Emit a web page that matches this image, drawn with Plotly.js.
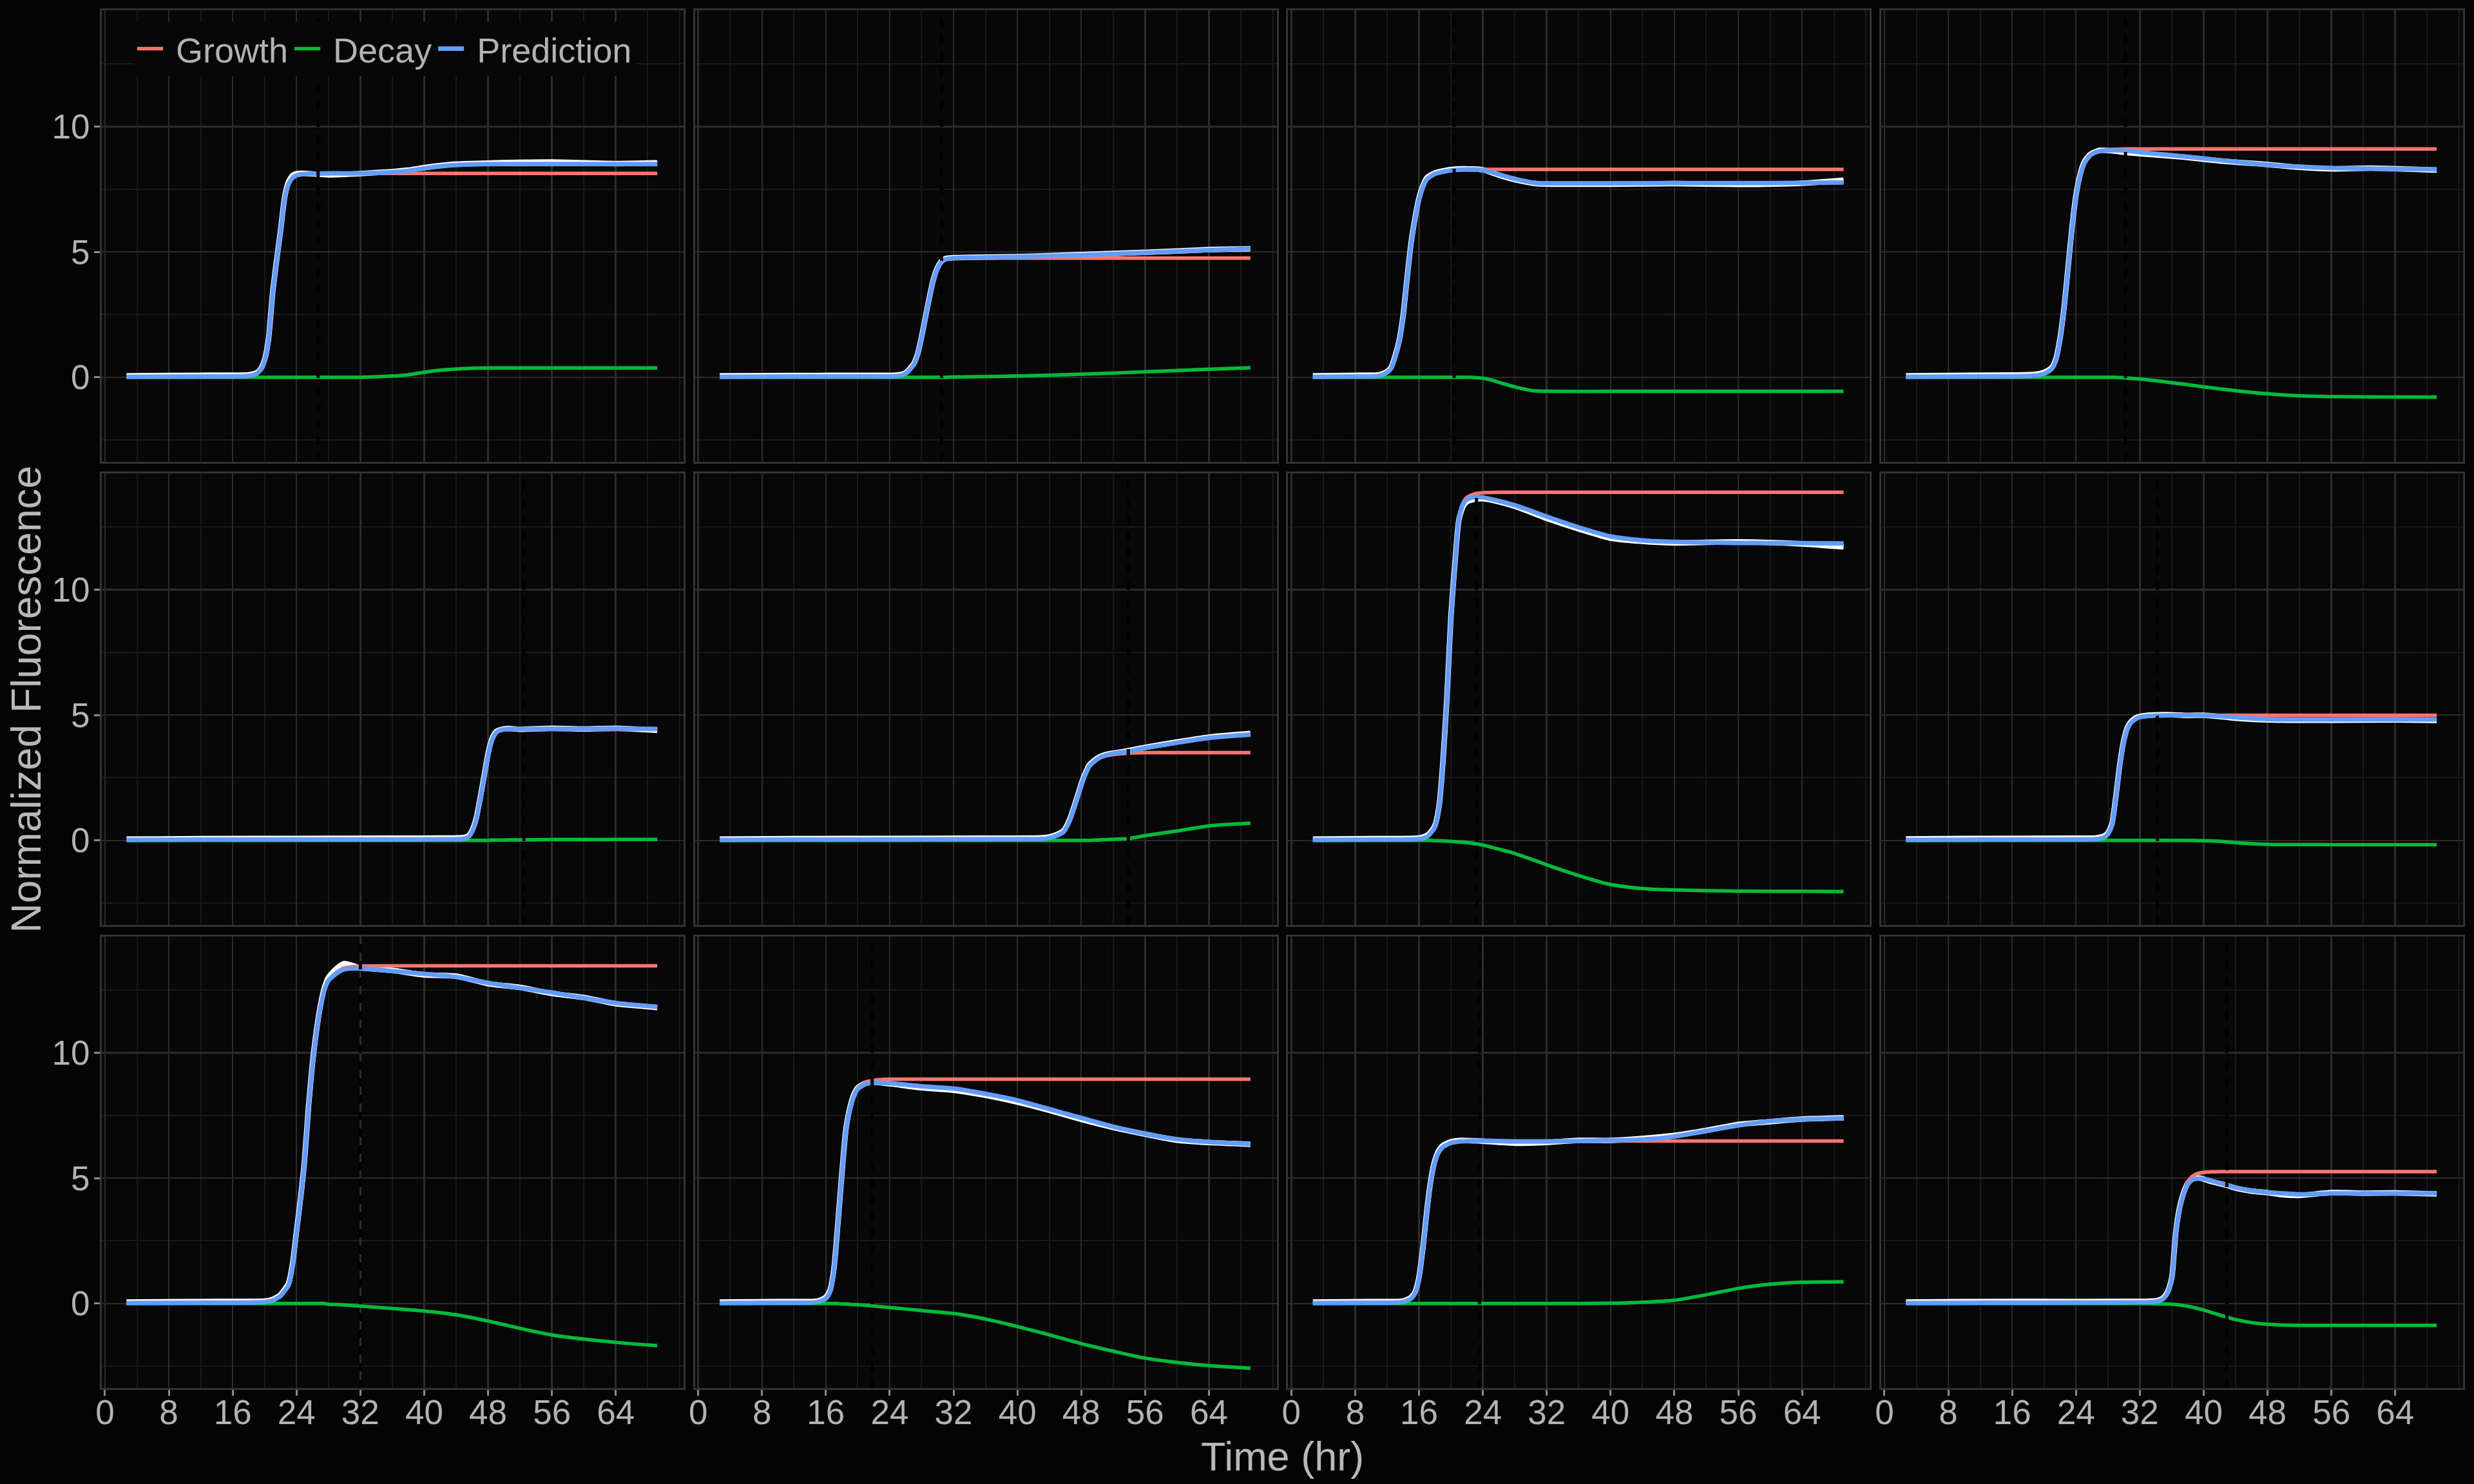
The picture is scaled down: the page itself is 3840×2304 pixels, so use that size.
<!DOCTYPE html>
<html>
<head>
<meta charset="utf-8">
<script src="https://cdn.plot.ly/plotly-3.0.1.min.js"></script>
<style>
  html, body { margin: 0; padding: 0; background: #040404; }
  #chart { width: 3840px; height: 2304px; }
</style>
</head>
<body>
<div id="chart"></div>
<script>
// ---------------- DATA ----------------
const xTicks = [0, 8, 16, 24, 32, 40, 48, 56, 64];
const yTicks = [0, 5, 10];
const seriesNames = ["Growth", "Decay", "Prediction"];
// time of the dashed vertical marker in each panel
const markerTime = [26.7, 30.5, 20.4, 30.2, 52.5, 53.9, 23.2, 34.2, 32.0, 21.8, 23.6, 42.9];

// Panel 1
const t1 = [2.7, 12, 18, 19, 19.5, 20, 20.5, 21, 21.5, 22, 22.5, 23, 23.5, 24, 25, 28, 32, 36, 38, 40, 42, 44, 48, 56, 64, 69.2];
const growth1 = [0.02, 0.03, 0.06, 0.15, 0.3, 0.65, 1.5, 3.3, 4.6, 5.8, 7.1, 7.7, 7.95, 8.05, 8.11, 8.13, 8.13, 8.13, 8.13, 8.13, 8.13, 8.13, 8.13, 8.13, 8.13, 8.13];
const decay1 = [0, 0, 0, 0, 0, 0, 0, 0, 0, 0, 0, 0, 0, 0, 0, 0, 0, 0.05, 0.1, 0.2, 0.28, 0.33, 0.37, 0.37, 0.37, 0.37];
const pred1 = [0.02, 0.03, 0.06, 0.15, 0.3, 0.65, 1.5, 3.3, 4.6, 5.8, 7.1, 7.7, 7.95, 8.05, 8.11, 8.13, 8.13, 8.18, 8.23, 8.33, 8.41, 8.46, 8.5, 8.5, 8.5, 8.5];
const obs1 = [0.06, 0.08, 0.1, 0.18, 0.33, 0.7, 1.55, 3.35, 4.65, 5.85, 7.15, 7.8, 8.05, 8.12, 8.13, 8.07, 8.12, 8.2, 8.26, 8.36, 8.44, 8.5, 8.54, 8.58, 8.52, 8.55];

// Panel 2
const t2 = [2.7, 12, 20, 25, 26, 27, 27.5, 28, 28.5, 29, 29.5, 30, 30.5, 31, 32, 34, 40, 48, 56, 64, 69.2];
const growth2 = [0.02, 0.03, 0.04, 0.05, 0.15, 0.5, 0.9, 1.6, 2.4, 3.2, 3.9, 4.35, 4.6, 4.7, 4.74, 4.75, 4.75, 4.75, 4.75, 4.75, 4.75];
const decay2 = [0, 0, 0, 0, 0, 0, 0, 0, 0, 0, 0, 0, 0, 0, 0.01, 0.02, 0.05, 0.12, 0.22, 0.32, 0.38];
const pred2 = [0.02, 0.03, 0.04, 0.05, 0.15, 0.5, 0.9, 1.6, 2.4, 3.2, 3.9, 4.35, 4.6, 4.7, 4.75, 4.77, 4.8, 4.87, 4.97, 5.07, 5.13];
const obs2 = [0.06, 0.07, 0.08, 0.09, 0.18, 0.53, 0.93, 1.63, 2.43, 3.23, 3.93, 4.38, 4.63, 4.73, 4.77, 4.78, 4.81, 4.89, 4.98, 5.09, 5.12];

// Panel 3
const t3 = [2.7, 8, 11, 12, 12.5, 13, 13.5, 14, 14.5, 15, 15.5, 16, 16.5, 17, 18, 20, 22.3, 24, 25.2, 26.5, 28, 30.4, 32.7, 40, 48, 56, 64, 69.2];
const growth3 = [0.02, 0.03, 0.06, 0.2, 0.35, 0.8, 1.4, 2.4, 3.9, 5.3, 6.3, 7.1, 7.6, 7.9, 8.11, 8.25, 8.29, 8.29, 8.29, 8.29, 8.29, 8.29, 8.29, 8.29, 8.29, 8.29, 8.29, 8.29];
const decay3 = [0, 0, 0, 0, 0, 0, 0, 0, 0, 0, 0, 0, 0, 0, 0, 0, 0, -0.04, -0.12, -0.25, -0.38, -0.54, -0.56, -0.56, -0.56, -0.56, -0.56, -0.56];
const pred3 = [0.02, 0.03, 0.06, 0.2, 0.35, 0.8, 1.4, 2.4, 3.9, 5.3, 6.3, 7.1, 7.6, 7.9, 8.11, 8.25, 8.29, 8.25, 8.17, 8.04, 7.91, 7.75, 7.73, 7.73, 7.74, 7.74, 7.75, 7.77];
const obs3 = [0.06, 0.08, 0.1, 0.23, 0.4, 0.85, 1.45, 2.45, 3.95, 5.35, 6.35, 7.15, 7.65, 7.96, 8.15, 8.28, 8.31, 8.27, 8.15, 8.01, 7.88, 7.73, 7.7, 7.7, 7.72, 7.69, 7.74, 7.86];

// Panel 4
const t4 = [2.7, 10, 18, 19.5, 20.5, 21, 21.5, 22, 22.5, 23, 23.5, 24, 24.5, 25, 25.5, 26, 27, 28.5, 30, 32.7, 37.4, 42.2, 46.9, 51.6, 56.4, 61, 69.2];
const growth4 = [0.02, 0.03, 0.05, 0.1, 0.22, 0.35, 0.7, 1.5, 2.7, 4.3, 5.9, 7.2, 8.0, 8.5, 8.75, 8.9, 9.02, 9.08, 9.1, 9.1, 9.1, 9.1, 9.1, 9.1, 9.1, 9.1, 9.1];
const decay4 = [0, 0, 0, 0, 0, 0, 0, 0, 0, 0, 0, 0, 0, 0, 0, 0, 0, 0, -0.02, -0.09, -0.27, -0.47, -0.63, -0.73, -0.77, -0.78, -0.79];
const pred4 = [0.02, 0.03, 0.05, 0.1, 0.22, 0.35, 0.7, 1.5, 2.7, 4.3, 5.9, 7.2, 8.0, 8.5, 8.75, 8.9, 9.02, 9.05, 9.04, 8.95, 8.81, 8.65, 8.5, 8.4, 8.34, 8.32, 8.29];
const obs4 = [0.06, 0.08, 0.1, 0.15, 0.28, 0.4, 0.76, 1.56, 2.76, 4.36, 5.96, 7.26, 8.06, 8.56, 8.8, 8.93, 9.05, 9.03, 8.97, 8.9, 8.78, 8.62, 8.51, 8.38, 8.31, 8.34, 8.26];

// Panel 5
const t5 = [2.7, 12, 24, 36, 44, 45, 45.5, 46, 46.5, 47, 47.5, 48, 48.5, 49, 49.5, 50.5, 52, 56, 60, 64, 69.2];
const growth5 = [0.02, 0.03, 0.04, 0.04, 0.05, 0.07, 0.12, 0.35, 0.8, 1.6, 2.5, 3.4, 4.0, 4.28, 4.38, 4.42, 4.42, 4.42, 4.42, 4.42, 4.42];
const decay5 = [0, 0, 0, 0, 0, 0, 0, 0, 0, 0, 0, 0, 0.01, 0.01, 0.01, 0.02, 0.02, 0.03, 0.03, 0.04, 0.04];
const pred5 = [0.02, 0.03, 0.04, 0.04, 0.05, 0.07, 0.12, 0.35, 0.8, 1.6, 2.5, 3.4, 4.01, 4.29, 4.39, 4.44, 4.44, 4.45, 4.45, 4.46, 4.44];
const obs5 = [0.05, 0.07, 0.08, 0.09, 0.1, 0.12, 0.17, 0.4, 0.86, 1.66, 2.56, 3.46, 4.06, 4.33, 4.41, 4.46, 4.43, 4.47, 4.44, 4.47, 4.39];

// Panel 6
const t6 = [2.7, 12, 24, 36, 43, 44, 45, 45.8, 46.5, 47.2, 48, 48.4, 49, 49.6, 50.3, 51, 52.5, 53.9, 56.2, 60.5, 64.3, 69.2];
const growth6 = [0.02, 0.03, 0.04, 0.05, 0.06, 0.1, 0.2, 0.34, 0.75, 1.39, 2.2, 2.55, 2.95, 3.13, 3.28, 3.36, 3.44, 3.48, 3.5, 3.5, 3.5, 3.5];
const decay6 = [0, 0, 0, 0, 0, 0, 0, 0, 0, 0, 0, 0, 0, 0.01, 0.02, 0.03, 0.05, 0.07, 0.2, 0.4, 0.59, 0.69];
const pred6 = [0.02, 0.03, 0.04, 0.05, 0.06, 0.1, 0.2, 0.34, 0.75, 1.39, 2.2, 2.55, 2.95, 3.14, 3.3, 3.39, 3.49, 3.55, 3.7, 3.92, 4.1, 4.22];
const obs6 = [0.05, 0.07, 0.08, 0.09, 0.1, 0.14, 0.24, 0.39, 0.8, 1.44, 2.25, 2.6, 3.0, 3.18, 3.33, 3.42, 3.5, 3.58, 3.72, 3.95, 4.13, 4.26];

// Panel 7
const t7 = [2.7, 10, 16, 17, 17.5, 18, 18.5, 19, 19.5, 20, 20.5, 21, 21.5, 22, 23, 24, 26, 28, 30, 32.5, 36, 40, 44, 48, 56, 64, 69.2];
const growth7 = [0.02, 0.03, 0.06, 0.15, 0.3, 0.55, 1.3, 3.1, 5.7, 8.9, 11.0, 12.9, 13.45, 13.68, 13.82, 13.86, 13.88, 13.88, 13.88, 13.88, 13.88, 13.88, 13.88, 13.88, 13.88, 13.88, 13.88];
const decay7 = [0, 0, 0, 0, 0, -0.01, -0.01, -0.02, -0.03, -0.04, -0.05, -0.06, -0.07, -0.09, -0.13, -0.19, -0.35, -0.52, -0.74, -1.03, -1.4, -1.76, -1.92, -1.98, -2.02, -2.03, -2.04];
const pred7 = [0.02, 0.03, 0.06, 0.15, 0.3, 0.54, 1.29, 3.08, 5.67, 8.86, 10.95, 12.84, 13.38, 13.59, 13.69, 13.67, 13.53, 13.36, 13.14, 12.85, 12.48, 12.12, 11.96, 11.9, 11.86, 11.85, 11.84];
const obs7 = [0.05, 0.07, 0.1, 0.2, 0.35, 0.6, 1.35, 3.15, 5.75, 8.95, 11.05, 12.8, 13.3, 13.5, 13.6, 13.62, 13.5, 13.32, 13.08, 12.78, 12.42, 12.05, 11.92, 11.86, 11.9, 11.82, 11.7];

// Panel 8
const t8 = [2.7, 12, 24, 26.5, 27.5, 28, 28.5, 29, 29.5, 30, 30.5, 31, 31.7, 32.5, 33.6, 36, 38, 40, 42.2, 44.5, 48.3, 56, 64, 69.2];
const growth8 = [0.02, 0.03, 0.04, 0.05, 0.12, 0.25, 0.6, 1.7, 3.0, 3.95, 4.48, 4.72, 4.88, 4.94, 4.97, 4.99, 4.99, 4.99, 4.99, 4.99, 4.99, 4.99, 4.99, 4.99];
const decay8 = [0, 0, 0, 0, 0, 0, 0, 0, 0, 0, 0, 0, 0, 0, 0, 0, 0, -0.01, -0.04, -0.1, -0.16, -0.17, -0.17, -0.17];
const pred8 = [0.02, 0.03, 0.04, 0.05, 0.12, 0.25, 0.6, 1.7, 3.0, 3.95, 4.48, 4.72, 4.88, 4.94, 4.97, 4.99, 4.99, 4.98, 4.95, 4.89, 4.83, 4.82, 4.82, 4.82];
const obs8 = [0.06, 0.08, 0.09, 0.1, 0.17, 0.3, 0.66, 1.76, 3.06, 4.01, 4.54, 4.77, 4.92, 4.97, 5.0, 5.01, 4.98, 4.99, 4.93, 4.86, 4.8, 4.79, 4.8, 4.78];

// Panel 9
const t9 = [2.7, 12, 20, 21, 22, 22.5, 23, 23.5, 24, 24.5, 25, 25.5, 26, 26.5, 27, 27.5, 28, 29, 30, 32, 36, 40, 44, 48, 52, 56, 60, 64, 69.2];
const growth9 = [0.02, 0.03, 0.06, 0.12, 0.3, 0.5, 0.72, 1.5, 2.8, 4.1, 5.6, 7.75, 9.5, 10.8, 11.8, 12.5, 12.9, 13.2, 13.38, 13.45, 13.46, 13.46, 13.46, 13.46, 13.46, 13.46, 13.46, 13.46, 13.46];
const decay9 = [0, 0, 0, 0, 0, 0, 0, 0, 0, 0, 0, 0, 0, 0, 0, 0, -0.03, -0.04, -0.06, -0.1, -0.2, -0.3, -0.45, -0.7, -0.99, -1.25, -1.42, -1.55, -1.68];
const pred9 = [0.02, 0.03, 0.06, 0.12, 0.3, 0.5, 0.72, 1.5, 2.8, 4.1, 5.6, 7.75, 9.5, 10.8, 11.8, 12.5, 12.87, 13.16, 13.32, 13.36, 13.25, 13.14, 13.02, 12.78, 12.58, 12.4, 12.18, 11.98, 11.83];
const obs9 = [0.06, 0.08, 0.1, 0.16, 0.35, 0.56, 0.8, 1.58, 2.88, 4.18, 5.68, 7.83, 9.58, 10.88, 11.88, 12.6, 13.0, 13.35, 13.55, 13.38, 13.28, 13.1, 13.05, 12.75, 12.6, 12.36, 12.2, 11.95, 11.8];

// Panel 10
const t10 = [2.7, 10, 15, 16, 16.5, 17, 17.5, 18, 18.5, 19, 19.5, 20, 21, 22, 24, 28, 32, 36, 40, 44, 48, 52, 56, 60, 64, 69.2];
const growth10 = [0.02, 0.03, 0.06, 0.2, 0.45, 1.3, 3.1, 5.1, 6.85, 7.75, 8.3, 8.6, 8.82, 8.9, 8.94, 8.94, 8.94, 8.94, 8.94, 8.94, 8.94, 8.94, 8.94, 8.94, 8.94, 8.94];
const decay10 = [0, 0, 0, 0, 0, 0, 0, -0.02, -0.02, -0.03, -0.04, -0.05, -0.07, -0.1, -0.16, -0.28, -0.4, -0.62, -0.92, -1.25, -1.6, -1.9, -2.18, -2.35, -2.48, -2.58];
const pred10 = [0.02, 0.03, 0.06, 0.2, 0.45, 1.3, 3.1, 5.08, 6.83, 7.72, 8.26, 8.55, 8.75, 8.8, 8.78, 8.66, 8.57, 8.36, 8.1, 7.75, 7.4, 7.05, 6.76, 6.55, 6.44, 6.36];
const obs10 = [0.06, 0.08, 0.1, 0.25, 0.51, 1.36, 3.16, 5.14, 6.9, 7.79, 8.32, 8.6, 8.79, 8.82, 8.76, 8.6, 8.5, 8.3, 8.03, 7.7, 7.34, 7.02, 6.75, 6.51, 6.42, 6.35];

// Panel 11
const t11 = [2.7, 10, 14, 15, 15.5, 16, 16.5, 17, 17.5, 18, 18.5, 19, 20, 21, 24, 28, 32, 36, 40, 44, 48, 52, 56, 60, 64, 69.2];
const growth11 = [0.02, 0.03, 0.06, 0.2, 0.4, 1.0, 2.2, 3.7, 4.9, 5.65, 6.05, 6.24, 6.4, 6.46, 6.48, 6.48, 6.48, 6.48, 6.48, 6.48, 6.48, 6.48, 6.48, 6.48, 6.48, 6.48];
const decay11 = [0, 0, 0, 0, 0, 0, 0, 0, 0, 0, 0, 0, 0, 0, 0, 0, 0, 0, 0.01, 0.05, 0.13, 0.35, 0.6, 0.77, 0.85, 0.87];
const pred11 = [0.02, 0.03, 0.06, 0.2, 0.4, 1.0, 2.2, 3.7, 4.9, 5.65, 6.05, 6.24, 6.4, 6.46, 6.49, 6.46, 6.46, 6.48, 6.5, 6.54, 6.66, 6.88, 7.1, 7.27, 7.34, 7.38];
const obs11 = [0.06, 0.08, 0.1, 0.25, 0.46, 1.06, 2.26, 3.76, 4.96, 5.72, 6.11, 6.3, 6.45, 6.5, 6.47, 6.39, 6.42, 6.5, 6.5, 6.58, 6.7, 6.9, 7.14, 7.25, 7.35, 7.4];

// Panel 12
const t12 = [2.7, 12, 24, 33, 34, 34.5, 35, 35.5, 36, 36.5, 37, 37.5, 38, 38.5, 39, 39.5, 40, 41, 42, 43, 44, 46, 48, 50, 52, 56, 60, 64, 69.2];
const growth12 = [0.02, 0.03, 0.04, 0.05, 0.08, 0.12, 0.22, 0.45, 1.0, 2.8, 3.85, 4.45, 4.85, 5.05, 5.15, 5.2, 5.23, 5.25, 5.26, 5.26, 5.26, 5.26, 5.26, 5.26, 5.26, 5.26, 5.26, 5.26, 5.26];
const decay12 = [0, 0, 0, 0, -0.01, -0.01, -0.02, -0.02, -0.03, -0.04, -0.06, -0.08, -0.11, -0.14, -0.18, -0.22, -0.26, -0.36, -0.46, -0.55, -0.64, -0.76, -0.83, -0.86, -0.87, -0.87, -0.87, -0.87, -0.87];
const pred12 = [0.02, 0.03, 0.04, 0.05, 0.07, 0.11, 0.2, 0.43, 0.97, 2.76, 3.79, 4.37, 4.74, 4.91, 4.97, 4.98, 4.97, 4.89, 4.8, 4.71, 4.62, 4.5, 4.43, 4.39, 4.35, 4.39, 4.39, 4.39, 4.39];
const obs12 = [0.06, 0.08, 0.08, 0.09, 0.11, 0.15, 0.25, 0.48, 1.02, 2.82, 3.86, 4.43, 4.79, 4.96, 5.0, 5.0, 4.96, 4.86, 4.78, 4.7, 4.6, 4.48, 4.42, 4.33, 4.31, 4.42, 4.4, 4.41, 4.37];

// ---------------- BUILD ----------------
const times = [t1, t2, t3, t4, t5, t6, t7, t8, t9, t10, t11, t12];
const growths = [growth1, growth2, growth3, growth4, growth5, growth6, growth7, growth8, growth9, growth10, growth11, growth12];
const decays = [decay1, decay2, decay3, decay4, decay5, decay6, decay7, decay8, decay9, decay10, decay11, decay12];
const preds = [pred1, pred2, pred3, pred4, pred5, pred6, pred7, pred8, pred9, pred10, pred11, pred12];
const obss = [obs1, obs2, obs3, obs4, obs5, obs6, obs7, obs8, obs9, obs10, obs11, obs12];

const W = 3840, H = 2304;
const colLeft = [158, 1078.7, 1999.4, 2920];
const rowTop = [16, 735, 1454];
const panelW = 903, panelH = 701;

const COL_GROWTH = "#F8766D", COL_DECAY = "#00BA38", COL_PRED = "#619CFF";
const TEXT = "#b3b3b3";
const FONT = "Liberation Sans, Arial, Helvetica, sans-serif";
const NB = "\u00a0";

const data = [];
const layout = {
  width: W, height: H,
  margin: {l: 0, r: 0, t: 0, b: 0, pad: 0},
  paper_bgcolor: "#040404",
  plot_bgcolor: "#070707",
  font: {family: FONT, color: TEXT, size: 53},
  hovermode: false,
  showlegend: true,
  legend: {
    orientation: "h",
    x: 208 / W, y: 1 - 34 / H,
    xanchor: "left", yanchor: "top",
    bgcolor: "#070707",
    borderwidth: 0,
    font: {family: FONT, size: 54, color: TEXT},
    itemgap: 10,
    itemwidth: 40,
    traceorder: "normal"
  },
  shapes: [],
  annotations: [
    {text: "Time (hr)", xref: "paper", yref: "paper", x: 1990.5 / W, y: 1 - 2261 / H,
     xanchor: "center", yanchor: "middle", showarrow: false,
     font: {family: FONT, size: 63, color: "#b8b8b8"}},
    {text: "Normalized Fluorescence", xref: "paper", yref: "paper", x: 40 / W, y: 1 - 1085.5 / H,
     xanchor: "center", yanchor: "middle", showarrow: false, textangle: -90,
     font: {family: FONT, size: 64, color: "#b8b8b8"}}
  ]
};

for (let i = 0; i < 12; i++) {
  const r = Math.floor(i / 4), c = i % 4;
  const n = i === 0 ? "" : String(i + 1);
  const xa = "x" + n, ya = "y" + n;
  const x0 = colLeft[c], y0 = rowTop[r];
  const bottomRow = r === 2, leftCol = c === 0;

  layout["xaxis" + n] = {
    domain: [x0 / W, (x0 + panelW) / W],
    anchor: ya,
    range: [-0.4, 72.5],
    tickmode: "array", tickvals: xTicks, ticktext: xTicks.map(String),
    showticklabels: bottomRow,
    ticks: bottomRow ? "outside" : "",
    ticklen: 9, tickwidth: 3, tickcolor: "#8a8a8a",
    ticklabelstandoff: -20,
    tickfont: {family: FONT, size: 53, color: TEXT},
    showgrid: true, gridcolor: "#2c2c2c", gridwidth: 2.5,
    minor: {tickmode: "linear", tick0: 0, dtick: 4, showgrid: true, gridcolor: "#191919", gridwidth: 2},
    zeroline: false,
    showline: true, mirror: true, linecolor: "#333333", linewidth: 3,
    fixedrange: true
  };
  layout["yaxis" + n] = {
    domain: [1 - (y0 + panelH) / H, 1 - y0 / H],
    anchor: xa,
    range: [-3.37, 14.63],
    tickmode: "array", tickvals: yTicks, ticktext: yTicks.map(String),
    showticklabels: leftCol,
    ticks: leftCol ? "outside" : "",
    ticklen: 9, tickwidth: 3, tickcolor: "#8a8a8a",
    ticklabelstandoff: -4,
    tickfont: {family: FONT, size: 53, color: TEXT},
    showgrid: true, gridcolor: "#2c2c2c", gridwidth: 2.5,
    minor: {tickmode: "linear", tick0: 0, dtick: 2.5, showgrid: true, gridcolor: "#191919", gridwidth: 2},
    zeroline: false,
    showline: true, mirror: true, linecolor: "#333333", linewidth: 3,
    fixedrange: true
  };

  const sm = {shape: "spline", smoothing: 0.6};
  // observed data (white), then growth, decay, prediction
  data.push({type: "scatter", mode: "lines", x: times[i], y: obss[i], xaxis: xa, yaxis: ya,
             line: Object.assign({color: "#ffffff", width: 8.5}, sm), showlegend: false, hoverinfo: "skip"});
  data.push({type: "scatter", mode: "lines", x: times[i], y: growths[i], xaxis: xa, yaxis: ya,
             name: NB + seriesNames[0], legendgroup: "g", showlegend: i === 0,
             line: Object.assign({color: COL_GROWTH, width: 5.5}, sm)});
  data.push({type: "scatter", mode: "lines", x: times[i], y: decays[i], xaxis: xa, yaxis: ya,
             name: NB + seriesNames[1], legendgroup: "d", showlegend: i === 0,
             line: Object.assign({color: COL_DECAY, width: 5.5}, sm)});
  data.push({type: "scatter", mode: "lines", x: times[i], y: preds[i], xaxis: xa, yaxis: ya,
             name: NB + seriesNames[2], legendgroup: "p", showlegend: i === 0,
             line: Object.assign({color: COL_PRED, width: 7}, sm)});

  layout.shapes.push({
    type: "line", xref: xa, yref: ya + " domain",
    x0: markerTime[i], x1: markerTime[i], y0: 0, y1: 1,
    line: {color: "#000000", width: 5, dash: "13px,13px"},
    layer: "above"
  });
}

Plotly.newPlot("chart", data, layout, {displayModeBar: false, staticPlot: true});
</script>
</body>
</html>
